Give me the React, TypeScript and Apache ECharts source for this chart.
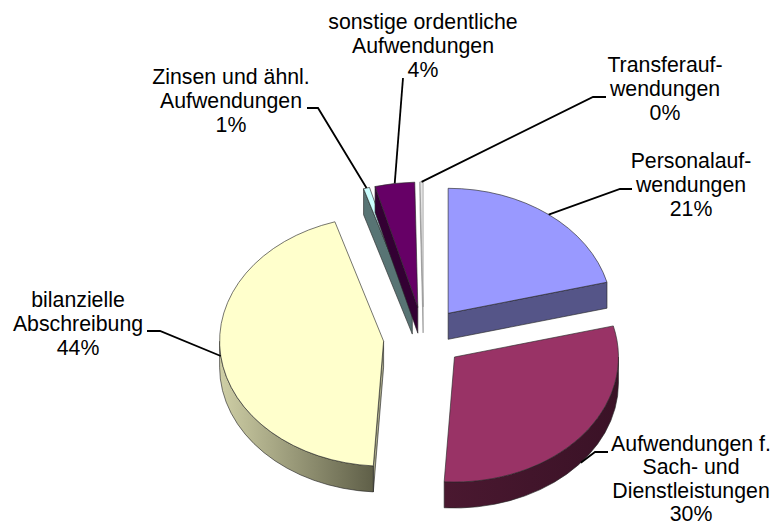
import React, { useEffect, useRef } from "react";
import * as echarts from "echarts";

const sliceNames = [
  "Personalauf-\nwendungen",
  "Aufwendungen f.\nSach- und\nDienstleistungen",
  "bilanzielle\nAbschreibung",
  "Zinsen und ähnl.\nAufwendungen",
  "sonstige ordentliche\nAufwendungen",
  "Transferauf-\nwendungen",
];
const sliceValues = [21.0, 30.0, 44.2, 0.6, 3.9, 0.3];
const topColors = ["#9999FF", "#993366", "#FFFFCC", "#CCFFFF", "#660066", "#E4E4E4"];
const wallColors = ["#555588", "#3E1429", "#A8A888", "#587474", "#330033", "#B8B8B8"];
const edgeColors = [
  "rgba(40,40,40,0.8)",
  "rgba(40,40,40,0.8)",
  "rgba(40,40,40,0.8)",
  "rgba(40,40,40,0.8)",
  "rgba(40,40,40,0.8)",
  "rgba(150,150,150,0.9)",
];
const rimGradients = [
  ["#555588", "#444470"],
  ["#4A1830", "#3A1226"],
  ["#CFCFA6", "#5F5F48"],
  ["#587474", "#587474"],
  ["#330033", "#330033"],
  ["#B8B8B8", "#B8B8B8"],
];
// label centre x / first-line centre y / line step, then the elbow of the leader line
const labelCenterX = [691, 691, 78, 231, 423, 665];
const labelFirstY = [161, 444, 300, 77, 22, 65];
const labelLineStep = [24.2, 23.4, 24.2, 24.2, 24.2, 24.2];
const leaderElbows = [
  [[632, 189], [620, 189]],
  [[608, 452], [595, 452]],
  [[147, 331], [160, 331]],
  [[307, 108], [318, 108]],
  [[403, 78]],
  [[606, 97], [593, 97]],
];

const BASE_X = 423.5;
const BASE_Y = 337.5;
const RX = 164;
const RY = 125;
const EXPLODE = 0.245;
const DEPTH = 26;

const total = sliceValues.reduce((a, b) => a + b, 0);
const starts: number[] = [];
sliceValues.reduce((acc, v, i) => {
  starts[i] = acc;
  return acc + (v / total) * Math.PI * 2;
}, 0);

function geometry(i: number, value: number) {
  const a0 = starts[i];
  const a1 = a0 + (value / total) * Math.PI * 2;
  const mid = (a0 + a1) / 2;
  const cx = BASE_X + EXPLODE * RX * Math.sin(mid);
  const cy = BASE_Y - EXPLODE * RY * Math.cos(mid);
  const pt = (a: number, dy = 0): [number, number] => [
    cx + RX * Math.sin(a),
    cy - RY * Math.cos(a) + dy,
  ];
  return { a0, a1, mid, cx, cy, pt };
}

function renderSlice(params: any, api: any) {
  const i = params.dataIndex;
  const value = api.value(0);
  const { a0, a1, mid, cx, cy, pt } = geometry(i, value);
  const children: any[] = [];
  const H = Math.PI / 2;
  const path = (d: string, fill: any) => ({
    type: "path",
    shape: { pathData: d },
    style: { fill, stroke: edgeColors[i], lineWidth: 0.8 },
  });
  const wedge = (a: number, dy: number) => {
    const p = pt(a);
    const q: [number, number] = [cx, cy];
    return `M${q[0]} ${q[1]}L${p[0]} ${p[1]}L${p[0]} ${p[1] + dy}L${q[0]} ${q[1] + dy}Z`;
  };
  if (a0 > Math.PI && a0 < 2 * Math.PI) children.push(path(wedge(a0, DEPTH), wallColors[i]));
  if (a1 > 0 && a1 < Math.PI) children.push(path(wedge(a1, DEPTH), wallColors[i]));
  const r0 = Math.max(a0, H);
  const r1 = Math.min(a1, 3 * H);
  if (r1 > r0) {
    const p0 = pt(r0);
    const p1 = pt(r1);
    const big = r1 - r0 > Math.PI ? 1 : 0;
    const d =
      `M${p0[0]} ${p0[1]}A${RX} ${RY} 0 ${big} 1 ${p1[0]} ${p1[1]}` +
      `L${p1[0]} ${p1[1] + DEPTH}A${RX} ${RY} 0 ${big} 0 ${p0[0]} ${p0[1] + DEPTH}Z`;
    const [left, right] = rimGradients[i];
    children.push(
      path(d, new echarts.graphic.LinearGradient(0, 0, 1, 0, [
        { offset: 0, color: left },
        { offset: 1, color: right },
      ]))
    );
  }
  const s = pt(a0);
  const e = pt(a1);
  const big = a1 - a0 > Math.PI ? 1 : 0;
  children.push(
    path(`M${cx} ${cy}L${s[0]} ${s[1]}A${RX} ${RY} 0 ${big} 1 ${e[0]} ${e[1]}Z`, topColors[i])
  );
  // leader line: from the elbow at the label to the rim at the slice's mid angle
  const rimY = Math.cos(mid) < 0 && Math.sin(mid) > 0 ? DEPTH : 0;
  const anchor = pt(mid, rimY);
  children.push({
    type: "polyline",
    shape: { points: [...leaderElbows[i], anchor] },
    style: { fill: "none", stroke: "#000", lineWidth: 1.8 },
  });
  return { type: "group", children };
}

const labelGraphics = sliceNames.flatMap((name, i) =>
  [...name.split("\n"), `${Math.round((sliceValues[i] / total) * 100)}%`].map((line, k) => ({
    type: "text",
    x: labelCenterX[i],
    y: labelFirstY[i] + k * labelLineStep[i],
    style: {
      text: line,
      font: '21.3px "Liberation Sans", Arial, sans-serif',
      fill: "#000",
      align: "center",
      verticalAlign: "middle",
      lineHeight: 18,
    },
  }))
);

export default function App() {
  const ref = useRef<HTMLDivElement>(null);
  useEffect(() => {
    const chart = echarts.init(ref.current!, undefined, { renderer: "svg" });
    chart.setOption({
      animation: false,
      backgroundColor: "#fff",
      graphic: labelGraphics,
      series: [
        {
          type: "custom",
          coordinateSystem: "none",
          renderItem: renderSlice,
          data: sliceValues.map((v, i) => ({ name: sliceNames[i], value: [v] })),
          silent: true,
        },
      ],
    });
    return () => chart.dispose();
  }, []);
  return (
    <div
      ref={ref}
      style={{ position: "absolute", left: 0, top: 0, width: 774, height: 527 }}
    />
  );
}
